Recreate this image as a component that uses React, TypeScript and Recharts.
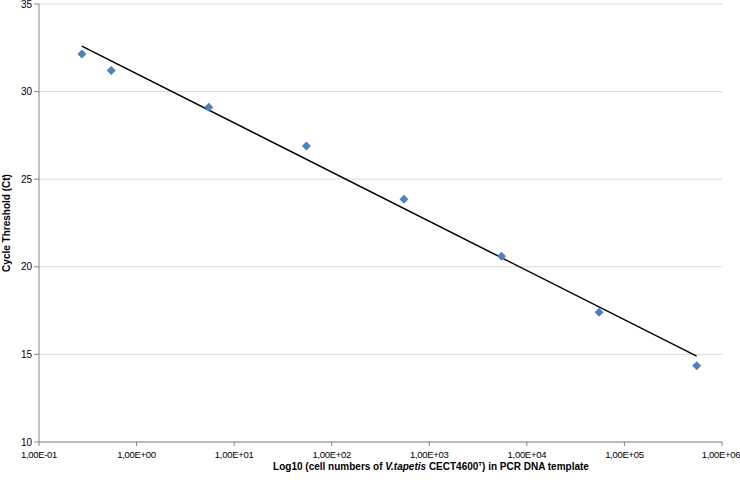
import React from 'react';
import {
  CartesianGrid,
  Label,
  Scatter,
  ScatterChart,
  XAxis,
  YAxis,
} from 'recharts';

// cell numbers (x) and measured Ct (y)
const cellNumbers = [0.275, 0.55, 5.5, 55, 550, 5500, 55000, 550000];
const ctValues = [32.15, 31.2, 29.1, 26.9, 23.85, 20.6, 17.4, 14.35];

// trend line endpoints
const trendX = [0.275, 550000];
const trendY = [32.6, 14.9];

const xTicks = [0.1, 1, 10, 100, 1000, 10000, 100000, 1000000];
const xTickLabels = ['1,00E-01', '1,00E+00', '1,00E+01', '1,00E+02', '1,00E+03', '1,00E+04', '1,00E+05', '1,00E+06'];
const yTicks = [10, 15, 20, 25, 30, 35];

const points = cellNumbers.map((x, i) => ({ x, y: ctValues[i] }));
const trend = trendX.map((x, i) => ({ x, y: trendY[i] }));

const FONT = '"Liberation Sans", Arial, sans-serif';
const AXIS = '#868686';

function Diamond(props: { cx?: number; cy?: number }) {
  const { cx = 0, cy = 0 } = props;
  const r = 4.5;
  return (
    <polygon
      points={`${cx},${cy - r} ${cx + r},${cy} ${cx},${cy + r} ${cx - r},${cy}`}
      fill="#4f81bd"
    />
  );
}

function XTick(props: { x?: number; y?: number; payload?: { value: number } }) {
  const { x = 0, y = 0, payload } = props;
  const i = payload ? xTicks.indexOf(payload.value) : -1;
  const label = xTickLabels[i] ?? '';
  // keep the last label inside the picture
  const tx = Math.min(x, 739 - 18);
  return (
    <text x={tx} y={y + 10} textAnchor="middle" fontFamily={FONT} fontSize={9.5} letterSpacing={-0.3} fill="#000">
      {label}
    </text>
  );
}

function XTitle() {
  return (
    <text x={431} y={470} textAnchor="middle" fontFamily={FONT} fontSize={10} fontWeight="bold" fill="#000">
      <tspan>Log10 (cell numbers of </tspan>
      <tspan fontStyle="italic">V.tapetis</tspan>
      <tspan> CECT4600</tspan>
      <tspan fontSize={6} dy={-4}>T</tspan>
      <tspan dy={4}>) in PCR DNA template</tspan>
    </text>
  );
}

export default function App() {
  return (
    <div style={{ position: 'absolute', left: 0, top: 0, width: 740, height: 480, background: '#fff' }}>
      <ScatterChart width={740} height={480} margin={{ top: 4, right: 18, bottom: 0, left: 0 }}>
        <CartesianGrid stroke="#d9d9d9" vertical={false} />
        <XAxis
          type="number"
          dataKey="x"
          scale="log"
          domain={[0.1, 1000000]}
          ticks={xTicks}
          allowDataOverflow
          height={38}
          tick={<XTick />}
          stroke={AXIS}
          tickSize={4}
          interval={0}
        >
          <Label content={<XTitle />} />
        </XAxis>
        <YAxis
          type="number"
          dataKey="y"
          domain={[10, 35]}
          ticks={yTicks}
          width={39}
          tick={{ fontSize: 10, fontFamily: FONT, fill: '#000' }}
          stroke={AXIS}
          tickSize={5}
          interval={0}
        >
          <Label
            value="Cycle Threshold (Ct)"
            angle={-90}
            position="insideLeft"
            offset={0}
            style={{ fontSize: 10, fontFamily: FONT, fontWeight: 'bold', fill: '#000', textAnchor: 'middle' }}
            dx={6}
          />
        </YAxis>
        <Scatter data={trend} line={{ stroke: '#000', strokeWidth: 1.5 }} shape={() => <g />} isAnimationActive={false} />
        <Scatter data={points} shape={<Diamond />} isAnimationActive={false} />
      </ScatterChart>
    </div>
  );
}
